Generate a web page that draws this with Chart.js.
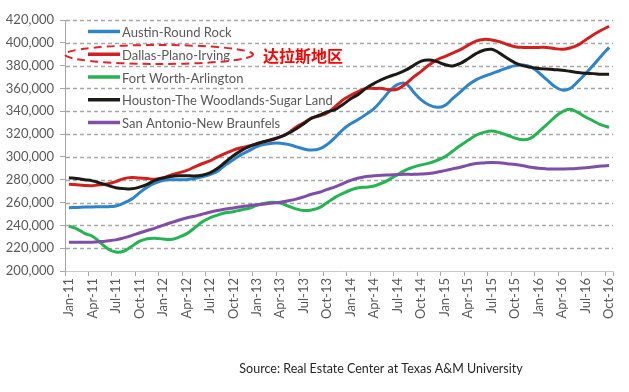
<!DOCTYPE html>
<html><head><meta charset="utf-8">
<script src="https://cdn.jsdelivr.net/npm/chart.js@4.4.0/dist/chart.umd.min.js"></script>
<style>html,body{margin:0;padding:0;background:#fff;}#wrap{position:relative;width:629px;height:392px;}</style>
</head><body><div id="wrap"><canvas id="c" width="629" height="392"></canvas></div>
<script>
const months = ["Jan-11","Feb-11","Mar-11","Apr-11","May-11","Jun-11","Jul-11","Aug-11","Sep-11","Oct-11","Nov-11","Dec-11",
"Jan-12","Feb-12","Mar-12","Apr-12","May-12","Jun-12","Jul-12","Aug-12","Sep-12","Oct-12","Nov-12","Dec-12",
"Jan-13","Feb-13","Mar-13","Apr-13","May-13","Jun-13","Jul-13","Aug-13","Sep-13","Oct-13","Nov-13","Dec-13",
"Jan-14","Feb-14","Mar-14","Apr-14","May-14","Jun-14","Jul-14","Aug-14","Sep-14","Oct-14","Nov-14","Dec-14",
"Jan-15","Feb-15","Mar-15","Apr-15","May-15","Jun-15","Jul-15","Aug-15","Sep-15","Oct-15","Nov-15","Dec-15",
"Jan-16","Feb-16","Mar-16","Apr-16","May-16","Jun-16","Jul-16","Aug-16","Sep-16","Oct-16"];

const seriesNames = ["Austin-Round Rock","Dallas-Plano-Irving","Fort Worth-Arlington","Houston-The Woodlands-Sugar Land","San Antonio-New Braunfels"];

// values in thousands of dollars
const austin = [255.5,255.7,256,256.2,256.3,256.4,257,259.5,263,268.5,
273.5,277,279.3,280,280,280,281,282.5,284.5,287.5,
293,297.5,302,305.5,309,311,312,312,311,309,
307,306,307,311,317,324,329,333,337.5,342.5,
350,358,363.5,364.5,357,350,345.5,343.5,345,351,
357,363,367.5,370.5,373,375.5,378,380,380.5,379,
374,368,362,358.6,360,366,373,380.5,388.5,396];

const dallas = [276,275.5,275,274.8,275.5,276.5,278.3,281,282,281.5,
281,280.5,281.5,284,286,288,291,294,296.5,300,
303,306,308,309.5,311.5,313.5,315,317.5,321,326,
330,334,336,338.5,344,350,354,357.5,360,360,
360,358.8,359.5,364,370,375,380.5,385,388,391,
394,398,401.5,403,402.5,401,398.5,396.6,396,396,
396,396,395,394.3,395.5,398,402.5,407,411,414.5];

const fortWorth = [239.4,237,233,230.5,225,219.3,216.6,217.3,221.5,226,
228.3,228.8,228,227.6,229.5,232.5,237.5,243,246.5,249,
251,252,253.5,255,257.5,259.3,260.2,259.5,257,254.5,
253,253.5,255.5,260,264.5,268,271,273,273.5,274.5,
277,280.5,284.5,288.5,291,293,294.5,297,300,305,
310,314.5,319,321.5,322.7,321.3,319,316.5,315,316.5,
322,328,334.5,339.5,341.7,339,335,331.5,328,326];

const houston = [281.8,281,280,279,277,275,273,272.2,272,273.5,
276,279.5,281.5,282.8,283.5,283.5,283.3,284,286,290,
295.5,301,305.5,309,311.5,313.5,315.5,317.5,320.5,324.5,
329,334,336.5,339.5,341.5,346,351,355,360.5,364.5,
368,370.7,373,376,380,384,385,383.5,381,379.7,
382,386,390.5,393.5,394.3,391,386.5,382.5,380,378.5,
377.5,377,376.5,376,375,374,373.3,373,372.5,372.4];

const sanAntonio = [225.2,225.2,225.2,225.3,225.8,226.5,227.3,229,231,233.3,
235.5,237.6,240,242.3,244.5,246.5,248,249.8,251.5,253,
254.3,255.3,256.3,257.3,258,258.7,259.5,260.2,261.5,263,
265,267.3,269,271.5,273.8,276.5,279.5,281.5,282.8,283.5,
284,284.2,284.5,284.7,284.7,285,285.5,286.5,288,289.5,
291,292.8,294.2,294.7,295,294.8,294,293.3,292.3,291,
290,289.5,289.3,289.4,289.6,290,290.5,291.2,292,292.5];

const yMin = 200000, yMax = 420000, yStep = 20000;
const colors = ["#2f83c7","#d0211f","#26b351","#1d1a16","#7f4ea6"];
const allSeries = [austin, dallas, fortWorth, houston, sanAntonio];

const dashedGrid = {
  id: 'dashedGrid',
  beforeDatasetsDraw(chart) {
    const ctx = chart.ctx, ys = chart.scales.y, a = chart.chartArea;
    ctx.save();
    ctx.strokeStyle = '#a6a6a6';
    ctx.lineWidth = 1.3;
    ctx.setLineDash([4, 3]);
    ys.ticks.forEach(t => {
      if (t.value === yMin) return;
      const py = Math.round(ys.getPixelForValue(t.value)) + 0.5;
      ctx.beginPath(); ctx.moveTo(a.left + 1, py); ctx.lineTo(a.right, py); ctx.stroke();
    });
    ctx.restore();
  }
};

const overlay = {
  id: 'overlay',
  afterDraw(chart) {
    const ctx = chart.ctx;
    ctx.save();
    chart.data.datasets.forEach((ds, k) => {
      const y = 31.5 + k * 22.75;
      ctx.strokeStyle = ds.borderColor;
      ctx.lineWidth = 3.5;
      ctx.setLineDash([]);
      ctx.beginPath(); ctx.moveTo(88, y); ctx.lineTo(120, y); ctx.stroke();
      ctx.fillStyle = '#595959';
      ctx.font = '13px Lato';
      ctx.textBaseline = 'middle';
      ctx.textAlign = 'left';
      ctx.fillText(ds.label, 122, y + 1.5);
    });
    ctx.strokeStyle = '#e3232a';
    ctx.lineWidth = 2;
    ctx.setLineDash([8, 5]);
    ctx.beginPath();
    ctx.ellipse(159, 54.5, 94, 9.5, 0, 0, Math.PI * 2);
    ctx.stroke();
    ctx.setLineDash([]);
    ctx.fillStyle = '#ff0000';
    ctx.font = 'bold 16px "Noto Sans CJK SC"';
    ctx.textBaseline = 'middle';
    ctx.textAlign = 'left';
    ctx.fillText('达拉斯地区', 263, 56);
    ctx.fillStyle = '#262626';
    ctx.font = '12.5px Lato';
    ctx.textAlign = 'center';
    ctx.fillText('Source: Real Estate Center at Texas A&M University', 381, 369);
    ctx.restore();
  }
};

Chart.defaults.font.family = 'Lato';
new Chart(document.getElementById('c'), {
  type: 'line',
  data: {
    labels: months,
    datasets: allSeries.map((arr, k) => ({
      label: seriesNames[k],
      data: arr.map(v => v * 1000),
      borderColor: colors[k],
      backgroundColor: colors[k],
      borderWidth: 3,
      pointRadius: 0,
      tension: 0.4,
      fill: false,
      order: 5 - k
    }))
  },
  options: {
    responsive: false,
    animation: false,
    devicePixelRatio: 1,
    layout: { padding: { left: 0, right: 16, top: 20, bottom: 71 } },
    plugins: { legend: { display: false }, tooltip: { enabled: false } },
    scales: {
      x: {
        type: 'category',
        offset: true,
        afterFit: s => { s.height = 50; },
        grid: {
          offset: true,
          drawOnChartArea: false,
          tickLength: 5,
          color: '#bfbfbf',
          tickColor: ctx => (ctx.index === undefined || ctx.index % 3 === 0) ? '#a6a6a6' : 'rgba(0,0,0,0)'
        },
        border: { display: true, color: '#c8c8c8', width: 1 },
        ticks: {
          autoSkip: false,
          minRotation: 90,
          maxRotation: 90,
          padding: 2,
          color: '#595959',
          font: { size: 13 },
          callback: function (v, i) { return i % 3 === 0 ? this.getLabelForValue(v) : ''; }
        }
      },
      y: {
        min: yMin, max: yMax,
        afterFit: s => { s.width = 65; },
        grid: { drawOnChartArea: false, color: '#a6a6a6', tickLength: 5, tickColor: '#a6a6a6', tickWidth: 1 },
        border: { display: true, color: '#a6a6a6', width: 1 },
        ticks: {
          stepSize: yStep,
          padding: 6,
          color: '#595959',
          font: { size: 13 },
          callback: v => v.toLocaleString('en-US')
        }
      }
    }
  },
  plugins: [dashedGrid, overlay]
});
</script></body></html>
